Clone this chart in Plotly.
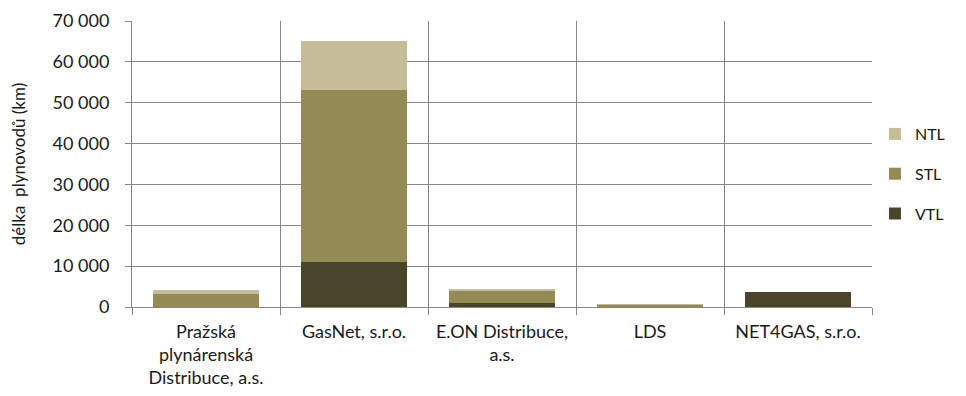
import plotly.graph_objects as go

categories = ["Pražská<br>plynárenská<br>Distribuce, a.s.", "GasNet, s.r.o.",
              "E.ON Distribuce,<br>a.s.", "LDS", "NET4GAS, s.r.o."]
vtl = [80, 10950, 900, 0, 3770]
stl = [3200, 42050, 3020, 550, 0]
ntl = [980, 12000, 340, 110, 0]

colors = {"VTL": "#4A452A", "STL": "#948A54", "NTL": "#C4BD97"}
ranks = {"NTL": 1, "STL": 2, "VTL": 3}
font_family = "Lato, 'Open Sans', sans-serif"

fig = go.Figure()
for name, vals in [("VTL", vtl), ("STL", stl), ("NTL", ntl)]:
    fig.add_trace(go.Bar(x=categories, y=vals, name=name, legendgroup=name,
                         legendrank=ranks[name],
                         marker=dict(color=colors[name], line=dict(width=0))))

fig.update_layout(
    barmode="stack",
    bargap=0.286,
    width=958, height=388,
    margin=dict(l=124, r=94, t=13, b=89, autoexpand=False),
    plot_bgcolor="white", paper_bgcolor="white",
    separators=", ",
    font=dict(family=font_family, size=18, color="#1a1a1a"),
    legend=dict(traceorder="grouped", tracegroupgap=16,
                x=1.004, xanchor="left", y=0.465, yanchor="middle",
                font=dict(size=16), itemwidth=30),
    showlegend=True,
)
fig.update_yaxes(range=[0, 70000], dtick=10000, tickformat=",d",
                 showgrid=True, gridcolor="#878787", gridwidth=1,
                 showline=True, linecolor="#878787", linewidth=1,
                 ticks="outside", ticklen=6, tickcolor="#878787",
                 ticklabelstandoff=12,
                 zeroline=False, automargin=False,
                 title=dict(text="délka  plynovodů (km)", font=dict(size=17), standoff=22))
fig.update_xaxes(showgrid=True, gridcolor="#878787", gridwidth=1,
                 tickson="boundaries", ticks="outside", ticklen=7, tickcolor="#878787",
                 ticklabelstandoff=8,
                 showline=True, linecolor="#878787", linewidth=1,
                 mirror=False, automargin=False)

fig.write_html("out.html")
